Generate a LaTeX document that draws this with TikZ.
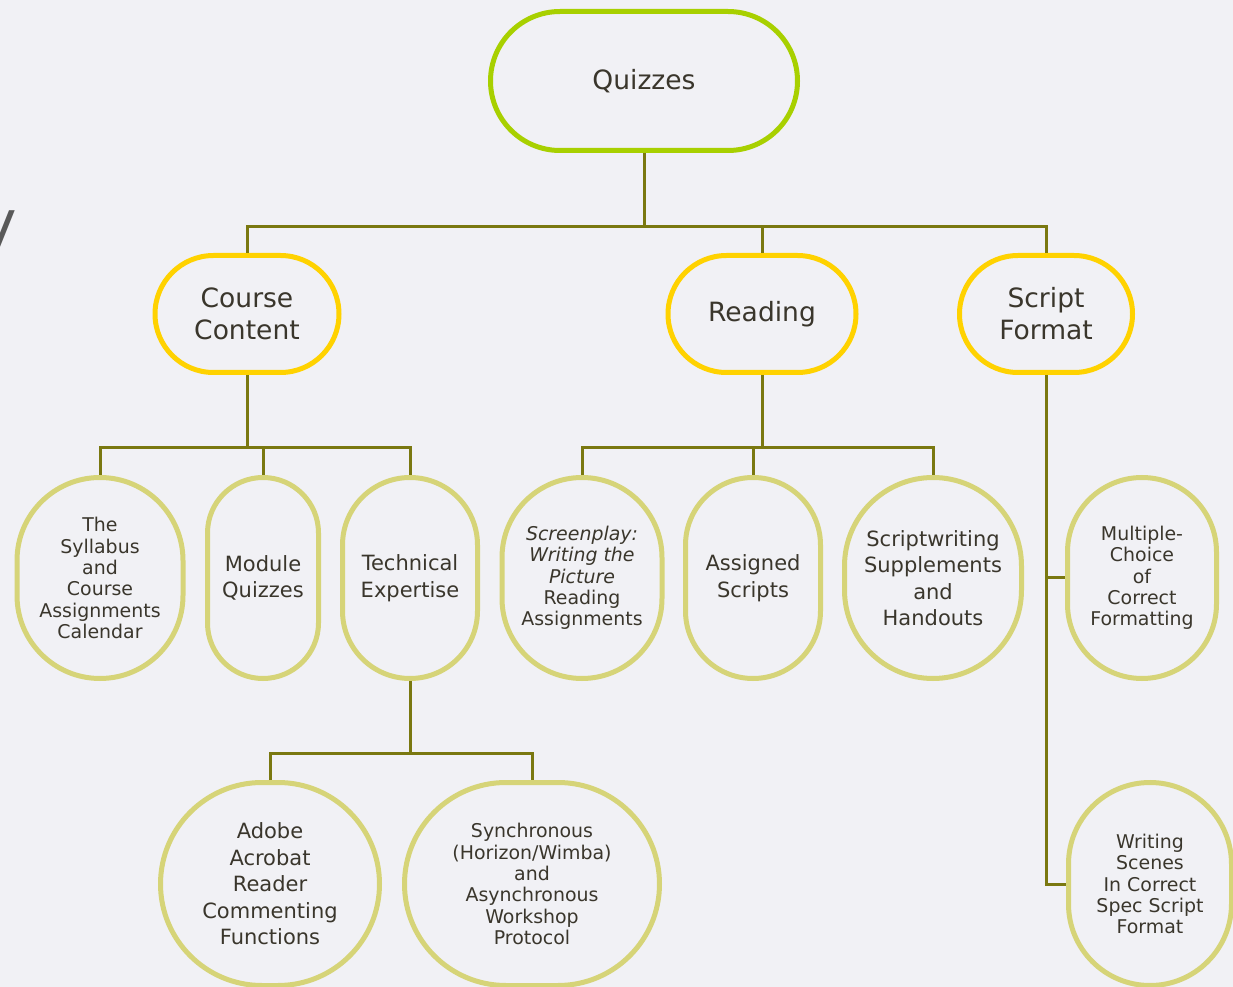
\documentclass[tikz,border=0pt]{standalone}
\usepackage{fontspec}
\setmainfont{DejaVu Sans}
\usepackage{tikz}
\usepackage{xcolor}
\usetikzlibrary{calc}
\definecolor{page_bg}{RGB}{241,241,245}
\definecolor{txt_main}{RGB}{58,54,44}
\definecolor{edge_root}{RGB}{168,208,0}
\definecolor{edge_mid}{RGB}{255,210,0}
\definecolor{edge_leaf}{RGB}{214,212,120}
\definecolor{link_col}{RGB}{122,120,16}
\tikzset{
    pill/.style n args={3}{draw,rectangle,line width=3.75pt,inner sep=0pt,align=center,text=txt_main,
        minimum width=#1*0.75pt,minimum height=#2*0.75pt,rounded corners=#3*0.75pt},
    box_root/.style={draw=edge_root,font=\fontsize{19.9}{24}\selectfont},
    box_mid/.style={draw=edge_mid,font=\fontsize{19.9}{24}\selectfont},
    box_leaf/.style={draw=edge_leaf,font=\fontsize{15.75}{19.9}\selectfont},
    box_leaf_small/.style={draw=edge_leaf,font=\fontsize{14.2}{16}\selectfont},
    link/.style={draw=link_col,line width=2.25pt},
}

\begin{document}
\begin{tikzpicture}[x=0.75pt,y=-0.75pt]
  \fill[page_bg] (0,0) rectangle (1233,987);
  \useasboundingbox (0,0) rectangle (1233,987);
  % cut-off letter at the left edge
  \node[anchor=base west,inner sep=0pt,text=black!65,font=\fontsize{45}{50}\selectfont] (edge_y) at (-19,244) {y};
  % Draw top levels
  \node[pill={307}{139}{69.5},box_root] (quiz) at (644,81) {Quizzes};
  \node[pill={184}{117}{58.5},box_mid] (course) at (247,314) {Course\\Content};
  \node[pill={188}{117}{58.5},box_mid] (reading) at (762,314) {Reading};
  \node[pill={173}{117}{58.5},box_mid] (script) at (1046,314) {Script\\Format};
  % Draw leaves
  \node[pill={166}{201}{83},box_leaf_small] (syllabus) at (100,578) {The\\Syllabus\\and\\Course\\Assignments\\Calendar};
  \node[pill={111}{201}{55.5},box_leaf] (module) at (263,578) {Module\\Quizzes};
  \node[pill={135}{201}{67.5},box_leaf] (technical) at (410,578) {Technical\\Expertise};
  \node[pill={160}{201}{80},box_leaf_small] (screenplay) at (582,578) {\textit{Screenplay:}\\\textit{Writing the}\\\textit{Picture}\\Reading\\Assignments};
  \node[pill={135}{201}{67.5},box_leaf] (assigned) at (753,578) {Assigned\\Scripts};
  \node[pill={177}{201}{88.5},box_leaf] (handouts) at (933,578) {Scriptwriting\\Supplements\\and\\Handouts};
  \node[pill={149}{201}{74.5},box_leaf_small] (multi) at (1142,578) {Multiple-\\Choice\\of\\Correct\\Formatting};
  \node[pill={219}{203}{101.5},box_leaf] (adobe) at (270,884) {Adobe\\Acrobat\\Reader\\Commenting\\Functions};
  \node[pill={255}{203}{101.5},box_leaf_small] (workshop) at (532,884) {Synchronous\\(Horizon/Wimba)\\and\\Asynchronous\\Workshop\\Protocol};
  \node[pill={163}{203}{81.5},box_leaf_small] (scenes) at (1150,884) {Writing\\Scenes\\In Correct\\Spec Script\\Format};
  % Draw connectors
  \draw[link] (quiz.south) -- ++(0,74) coordinate (bus_top);
  \draw[link] (course.north) |- (bus_top) -| (script.north);
  \draw[link] (reading.north) -- (reading.north |- bus_top);
  \draw[link] (course.south) -- ++(0,73) coordinate (bus_course);
  \draw[link] (syllabus.north) |- (bus_course) -| (technical.north);
  \draw[link] (module.north) -- (module.north |- bus_course);
  \draw[link] (reading.south) -- ++(0,73) coordinate (bus_reading);
  \draw[link] (screenplay.north) |- (bus_reading) -| (handouts.north);
  \draw[link] (assigned.north) -- (assigned.north |- bus_reading);
  \draw[link] (technical.south) -- ++(0,72) coordinate (bus_tech);
  \draw[link] (adobe.north) |- (bus_tech) -| (workshop.north);
  \draw[link] (script.south) |- (scenes.west);
  \draw[link] (script.south |- multi.west) -- (multi.west);
\end{tikzpicture}
\end{document}
